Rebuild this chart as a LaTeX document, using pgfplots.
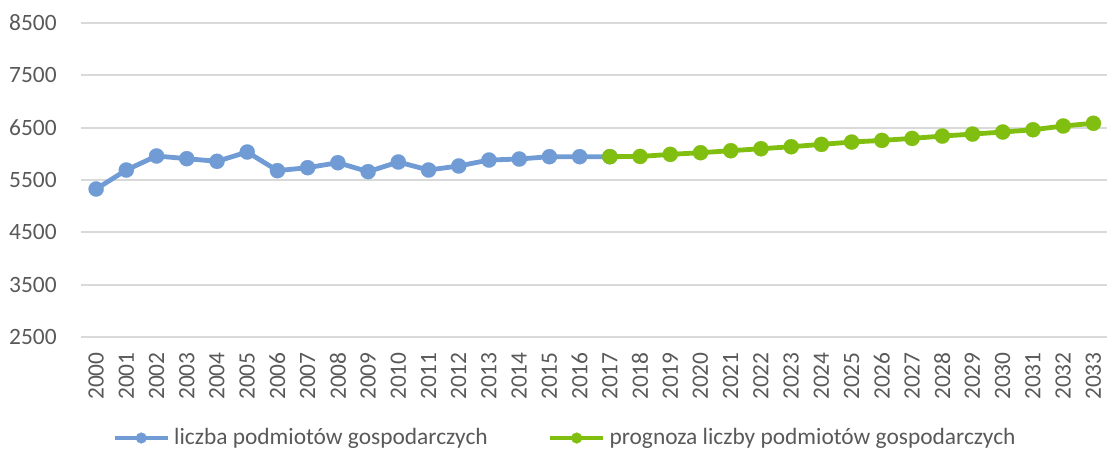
\documentclass[border=0pt]{standalone}
\usepackage{pgfplots}
\pgfplotsset{compat=1.18}
\usepackage{fontspec}
\setmainfont{Carlito}
\definecolor{serA}{RGB}{112,155,212}
\definecolor{serB}{RGB}{128,190,16}
\definecolor{txt}{RGB}{89,89,89}
\definecolor{gridc}{RGB}{217,217,217}
\newcommand\cf{\fontsize{11.7}{14}\selectfont}
\begin{document}
\begin{tikzpicture}
\useasboundingbox (0,0) rectangle (553.5pt,226pt);
\begin{axis}[
  at={(40.5pt,57.5pt)}, anchor=south west,
  scale only axis, width=513pt, height=157pt,
  xmin=1999.5, xmax=2033.45,
  ymin=2500, ymax=8500,
  ytick={2500,3500,...,8500},
  xtick={2000,...,2033},
  xmajorgrids=false,
  ymajorgrids=true,
  y grid style={draw=gridc, line width=0.9pt},
  axis line style={draw=none},
  major tick style={draw=none},
  /pgf/number format/assume math mode=true,
  /pgf/number format/set thousands separator={},
  tick label style={font=\cf, text=txt, inner sep=0pt},
  yticklabel style={anchor=east},
  yticklabel shift=12pt,
  xticklabel style={rotate=90, anchor=east},
  xticklabel shift=7.5pt,
  legend columns=2,
  legend style={draw=none, fill=none, at={(rel axis cs:0.0302,-0.3217)}, anchor=west,
    font=\cf, text=txt, inner sep=0pt,
    nodes={inner sep=2pt},
    /tikz/every even column/.append style={column sep=28pt}},
  legend cell align=left,
  legend image code/.code={%
    \draw[#1, mark size=2.7pt, mark repeat=2, mark phase=2] plot coordinates {(0pt,0pt)(13.25pt,0pt)(26.5pt,0pt)};},
]
\addplot[serA, line width=2.4pt, mark=*, mark size=3.8pt, mark options={fill=serA, draw=serA, line width=0.1pt}] coordinates {
(2000,5328)(2001,5691)(2002,5959)(2003,5908)(2004,5857)(2005,6035)(2006,5679)(2007,5736)(2008,5831)(2009,5660)(2010,5844)(2011,5691)(2012,5768)(2013,5882)(2014,5901)(2015,5946)(2016,5946)(2017,5946)};
\addlegendentry{liczba podmiotów gospodarczych}
\addplot[serB, line width=2.4pt, mark=*, mark size=3.8pt, mark options={fill=serB, draw=serB, line width=0.1pt}] coordinates {
(2017,5946)(2018,5950)(2019,5990)(2020,6022)(2021,6060)(2022,6098)(2023,6136)(2024,6181)(2025,6225)(2026,6257)(2027,6295)(2028,6340)(2029,6378)(2030,6417)(2031,6461)(2032,6532)(2033,6584)};
\addlegendentry{prognoza liczby podmiotów gospodarczych}
\end{axis}
\end{tikzpicture}
\end{document}
